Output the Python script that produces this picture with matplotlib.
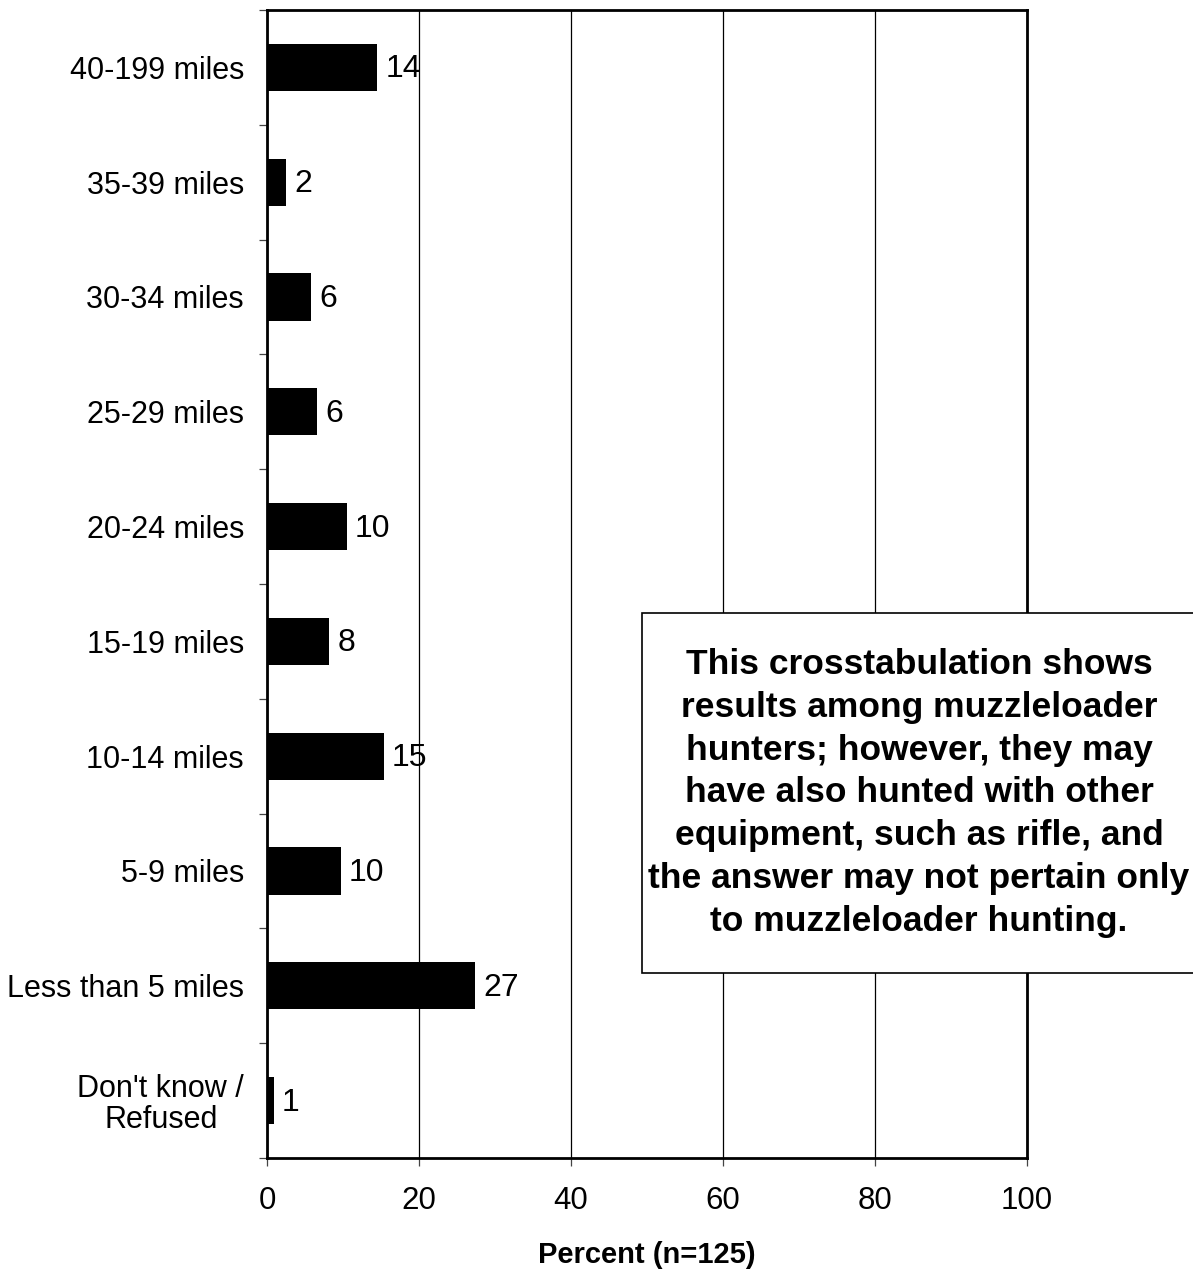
import matplotlib
matplotlib.use('Agg')
import matplotlib.pyplot as plt
import numpy as np
from matplotlib.patches import Rectangle

plt.rcParams['font.family'] = ['Liberation Sans', 'DejaVu Sans']

# bottom to top
categories = ["Don't know /\nRefused", 'Less than 5 miles', '5-9 miles', '10-14 miles',
              '15-19 miles', '20-24 miles', '25-29 miles', '30-34 miles',
              '35-39 miles', '40-199 miles']
percents = [0.9, 27.4, 9.7, 15.4, 8.2, 10.5, 6.6, 5.8, 2.5, 14.5]
labels = [1, 27, 10, 15, 8, 10, 6, 6, 2, 14]
x_ticks = [0, 20, 40, 60, 80, 100]

note = ('This crosstabulation shows\nresults among muzzleloader\nhunters; however, they may\n'
        'have also hunted with other\nequipment, such as rifle, and\n'
        'the answer may not pertain only\nto muzzleloader hunting.')

W, H = 1193, 1269
fig = plt.figure(figsize=(W / 100, H / 100), dpi=100)
ax = fig.add_axes([267 / W, 1 - 1158 / H, (1027 - 267) / W, (1158 - 10) / H])

y = np.arange(len(categories))
bars = ax.barh(y, percents, height=0.41, color='black', zorder=3)

for rect, lab in zip(bars, labels):
    ax.annotate(str(lab), xy=(rect.get_width(), rect.get_y() + rect.get_height() / 2),
                xytext=(8, -2), textcoords='offset pixels', ha='left', va='center',
                fontsize=23, zorder=4)

ax.set_xlim(0, 100)
ax.set_ylim(-0.5, len(categories) - 0.5)
ax.set_xticks(x_ticks)
ax.set_xticklabels([str(v) for v in x_ticks], fontsize=22.5)
ax.grid(axis='x', color='black', linewidth=0.9, zorder=1)

ax.set_yticks(np.arange(-0.5, len(categories), 1.0))
ax.set_yticklabels([])
ax.set_yticks(y, minor=True)
ax.set_yticklabels(categories, minor=True, fontsize=22)
for t in ax.get_yticklabels(minor=True):
    t.set_multialignment('center')
    t.set_linespacing(1.05)
ax.tick_params(axis='y', which='minor', length=0, pad=16.5)
ax.tick_params(axis='y', which='major', length=6, width=0.9, color='#444444', direction='out')
ax.tick_params(axis='x', length=6, width=0.9, color='#444444', direction='out', pad=14)

for s in ax.spines.values():
    s.set_linewidth(2)
    s.set_zorder(5)

ax.set_xlabel('Percent (n=125)', fontsize=21, fontweight='bold', labelpad=18)

# note box
fig.patches.append(Rectangle((642 / W, 1 - 973 / H), (1196 - 642) / W, (973 - 613) / H,
                             transform=fig.transFigure, facecolor='white',
                             edgecolor='black', linewidth=1.2, zorder=10))
fig.text(919 / W, 1 - 793 / H, note, ha='center', va='center', fontsize=25.5,
         fontweight='bold', linespacing=1.38, zorder=11)

plt.savefig('out.png', dpi=100)
